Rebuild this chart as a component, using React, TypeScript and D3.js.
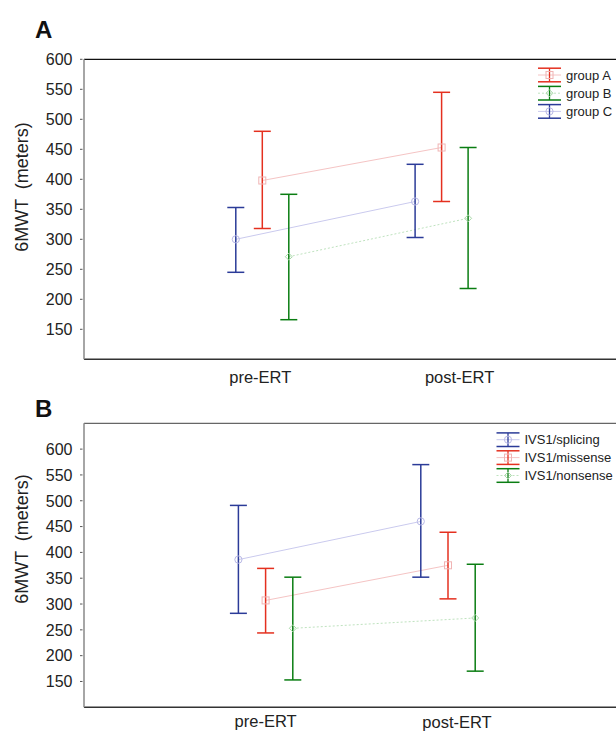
import React from 'react';
import * as d3 from "d3";

// data
const phases = ["pre-ERT", "post-ERT"];
const yTicks = [150, 200, 250, 300, 350, 400, 450, 500, 550, 600];

const groupNamesA = ["group A", "group B", "group C"];
const meanA = [[398, 453], [271, 335], [300, 363]];
const upperA = [[480, 545], [375, 453], [353, 425]];
const lowerA = [[318, 363], [166, 218], [245, 303]];

const groupNamesB = ["IVS1/splicing", "IVS1/missense", "IVS1/nonsense"];
const meanB = [[386, 460], [307, 375], [253, 273]];
const upperB = [[491, 570], [369, 439], [352, 377]];
const lowerB = [[282, 352], [244, 310], [153, 170]];

// styles
const font = "'Liberation Sans', Arial, Helvetica, sans-serif";
const styles = {
  red: { bar: "#e4301f", line: "#f5c4c4", mark: "#f0b4b4", shape: "square", dash: null },
  green: { bar: "#0a7d12", line: "#bfe3bf", mark: "#a9d9a9", shape: "diamond", dash: "2,2" },
  blue: { bar: "#2b3b98", line: "#cacaee", mark: "#b9b9e6", shape: "circle", dash: null },
};

const Marker = ({ x, y, s }) => {
  if (s.shape === "square") return <rect x={x - 3.5} y={y - 3.5} width={7} height={7} fill="none" stroke={s.mark} strokeWidth={1} />;
  if (s.shape === "circle") return <circle cx={x} cy={y} r={3.6} fill="none" stroke={s.mark} strokeWidth={1} />;
  return <path d={`M${x},${y - 3.5}L${x + 3.5},${y}L${x},${y + 3.5}L${x - 3.5},${y}Z`} fill="none" stroke={s.mark} strokeWidth={1} />;
};

const Panel = ({ letter, letterY, yDomain, yRange, xRange, dodge, names, means, uppers, lowers, looks, dodgeIdx, labelShift, labelY, titleY, legend }) => {
  const y = d3.scaleLinear().domain(yDomain).range(yRange);
  const x = d3.scalePoint().domain(phases).range(xRange);
  const left = 84;
  const top = yRange[1];
  const bottom = yRange[0];
  const cap = 8.5;

  return (
    <g>
      <text x={35} y={letterY} fontFamily={font} fontWeight="bold" fontSize={24} fill="#111">{letter}</text>
      {/* frame */}
      <line x1={left} x2={640} y1={top} y2={top} stroke={letter === "A" ? "#111" : "#666"} strokeWidth={1.2} />
      <line x1={left} x2={640} y1={bottom} y2={bottom} stroke="#333" strokeWidth={1.5} />
      <line x1={left} x2={left} y1={top} y2={bottom} stroke="#888" strokeWidth={1.5} />
      {/* y axis */}
      {yTicks.map(t => (
        <g key={t}>
          <line x1={80} x2={82.5} y1={y(t)} y2={y(t)} stroke="#555" strokeWidth={1} />
          <text x={72.5} y={y(t)} dy="0.36em" textAnchor="end" fontFamily={font} fontSize={16} fill="#222">{t}</text>
        </g>
      ))}
      <text transform={`translate(28,${titleY}) rotate(-90)`} textAnchor="middle" fontFamily={font} fontSize={18} fill="#222" style={{ whiteSpace: "pre" }}>{"6MWT  (meters)"}</text>
      {/* x labels */}
      {phases.map((p, i) => (
        <text key={p} x={x(p) + labelShift[i][0]} y={labelY + labelShift[i][1]} textAnchor="middle" fontFamily={font} fontSize={16.5} fill="#222">{p}</text>
      ))}
      {/* connecting lines */}
      {names.map((n, g) => {
        const s = styles[looks[g]];
        const pts = phases.map((p, i) => [x(p) + dodgeIdx[g] * dodge, y(means[g][i])]);
        return <path key={n} d={d3.line()(pts)} fill="none" stroke={s.line} strokeWidth={1} strokeDasharray={s.dash || undefined} />;
      })}
      {/* error bars */}
      {names.map((n, g) => {
        const s = styles[looks[g]];
        return phases.map((p, i) => {
          const cx = x(p) + dodgeIdx[g] * dodge;
          return (
            <g key={n + p}>
              <line x1={cx} x2={cx} y1={y(uppers[g][i])} y2={y(lowers[g][i])} stroke={s.bar} strokeWidth={1.5} />
              <line x1={cx - cap} x2={cx + cap} y1={y(uppers[g][i])} y2={y(uppers[g][i])} stroke={s.bar} strokeWidth={1.5} />
              <line x1={cx - cap} x2={cx + cap} y1={y(lowers[g][i])} y2={y(lowers[g][i])} stroke={s.bar} strokeWidth={1.5} />
              <Marker x={cx} y={y(means[g][i])} s={s} />
            </g>
          );
        });
      })}
      {/* legend */}
      {names.map((n, g) => {
        const s = styles[looks[g]];
        const ly = legend.y + g * legend.step;
        const lx = legend.x;
        return (
          <g key={"lg" + n}>
            <line x1={lx - 11.5} x2={lx + 11.5} y1={ly} y2={ly} stroke={s.line} strokeWidth={1} strokeDasharray={s.dash || undefined} />
            <line x1={lx} x2={lx} y1={ly - 6.8} y2={ly + 6.8} stroke={s.bar} strokeWidth={1.3} />
            <line x1={lx - 11.5} x2={lx + 11.5} y1={ly - 6.8} y2={ly - 6.8} stroke={s.bar} strokeWidth={1.5} />
            <line x1={lx - 11.5} x2={lx + 11.5} y1={ly + 6.8} y2={ly + 6.8} stroke={s.bar} strokeWidth={1.5} />
            <Marker x={lx} y={ly} s={s} />
            <text x={lx + 16.5} y={ly} dy="0.36em" fontFamily={font} fontSize={13} fill="#222">{n}</text>
          </g>
        );
      })}
    </g>
  );
};

const App = () => {
  return (
    <svg width={616} height={731} style={{ position: "absolute", left: 0, top: 0, background: "#fff" }}>
      <Panel letter="A" letterY={38} yDomain={[100, 600]} yRange={[359.3, 59.3]} xRange={[262.3, 441.6]} dodge={26.5}
        names={groupNamesA} means={meanA} uppers={upperA} lowers={lowerA}
        looks={["red", "green", "blue"]} dodgeIdx={[0, 1, -1]}
        labelShift={[[-2, 0], [18, 0]]} labelY={382.5} titleY={187}
        legend={{ x: 549.5, y: 75, step: 18.2 }} />
      <Panel letter="B" letterY={417} yDomain={[100, 650]} yRange={[707.3, 423.3]} xRange={[265.6, 448]} dodge={27.2}
        names={groupNamesB} means={meanB} uppers={upperB} lowers={lowerB}
        looks={["blue", "red", "green"]} dodgeIdx={[-1, 0, 1]}
        labelShift={[[0, 0], [9, 1]]} labelY={726.5} titleY={539}
        legend={{ x: 508, y: 439.7, step: 17.9 }} />
    </svg>
  );
};

export default App;
